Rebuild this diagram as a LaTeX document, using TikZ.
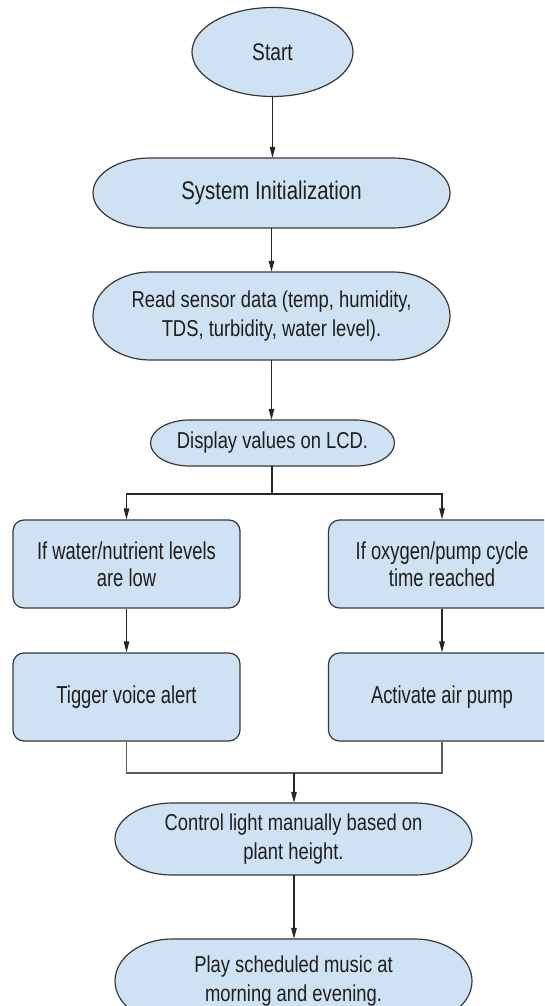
\documentclass[tikz,border=0pt]{standalone}
\usepackage{fontspec}
\setmainfont{Liberation Sans}[FakeStretch=0.8]
\newfontfamily\boxfont{Liberation Sans}[FakeStretch=0.75]
\usetikzlibrary{arrows.meta,shapes.geometric}

\definecolor{boxfill}{HTML}{CFE2F3}
\definecolor{boxline}{HTML}{383838}
\definecolor{ink}{HTML}{1E1E1E}
\definecolor{wire}{HTML}{262626}
\definecolor{mergewire}{HTML}{5C5C5C}

\tikzset{
  outline/.style={draw=boxline,fill=boxfill,line width=1.2pt},
  labeltext/.style={text=ink,align=center,inner sep=0pt,
    font=\fontsize{23}{28.5}\selectfont},
  termtext/.style={labeltext,rectangle},
  stepbox/.style={outline,labeltext,rectangle,rounded corners=11pt,
    minimum width=227pt,minimum height=88pt,
    font=\boxfont\fontsize{24.5}{27}\selectfont},
  arr/.style={draw=wire,line width=1.2pt,-{Triangle[length=11pt,width=5.5pt]}},
  mergeline/.style={draw=mergewire,line width=1.2pt},
}

% terminator shape: straight top and bottom, half-elliptic ends
% #1 name, #2 cx, #3 cy, #4 half width, #5 half height, #6 end radius, #7 label
\newcommand\terminal[7]{%
  \path[outline] (#2-#4+#6,#3-#5) -- (#2+#4-#6,#3-#5)
    arc[start angle=90,end angle=-90,x radius=#6pt,y radius=#5pt]
    -- (#2-#4+#6,#3+#5)
    arc[start angle=270,end angle=90,x radius=#6pt,y radius=#5pt] -- cycle;
  \node[termtext,minimum width=2*#4pt,minimum height=2*#5pt] (#1) at (#2,#3) {#7};}

\begin{document}
\begin{tikzpicture}[x=1pt,y=-1pt]
\useasboundingbox (0,0) rectangle (544,1006);
\fill[white] (0,0) rectangle (544,1006);
\clip (0,0) rectangle (544,1006);

% main column
\node[outline,labeltext,ellipse,minimum width=161pt,minimum height=89pt,
  font=\fontsize{24}{28}\selectfont] (start) at (272.5,52) {Start};
\terminal{init}{271.5}{193}{178.5}{35}{57}{\fontsize{25.5}{30}\selectfont System Initialization}
\terminal{read}{271.5}{316}{178.5}{44}{57}{Read sensor data (temp, humidity,\\TDS, turbidity, water level).}
\terminal{disp}{272.5}{443}{122}{23}{39}{Display values on LCD.}

% two branches
\node[stepbox] (water) at (126.5,564) {If water/nutrient levels\\are low};
\node[stepbox] (oxy)   at (442,564)   {If oxygen/pump cycle\\time reached};
\node[stepbox] (voice) at (126.5,697) {Tigger voice alert};
\node[stepbox] (pump)  at (442,697)   {Activate air pump};

% lower column
\terminal{light}{293.5}{839}{178.5}{36}{57}{Control light manually based on\\plant height.}
\terminal{music}{293.5}{981}{178.5}{42}{57}{Play scheduled music at\\morning and evening.}

\coordinate (split) at (272,494);
\coordinate (join) at (294,773);

% connectors
\draw[arr] (start.south) -- (start.south |- init.north);
\draw[arr] (init.south) -- (init.south |- read.north);
\draw[arr] (read.south) -- (read.south |- disp.north);
\draw[draw=wire,line width=1.2pt] (disp.south -| split) -- (split);
\draw[arr] (split) -| (water.north);
\draw[arr] (split) -| (oxy.north);
\draw[arr] (water.south) -- (voice.north);
\draw[arr] (oxy.south) -- (pump.north);
\draw[mergeline] (voice.south) |- (join);
\draw[mergeline] (pump.south) |- (join);
\draw[arr] (join) -- (join |- light.north);
\draw[arr] (light.south -| join) -- (join |- music.north);
\end{tikzpicture}
\end{document}
